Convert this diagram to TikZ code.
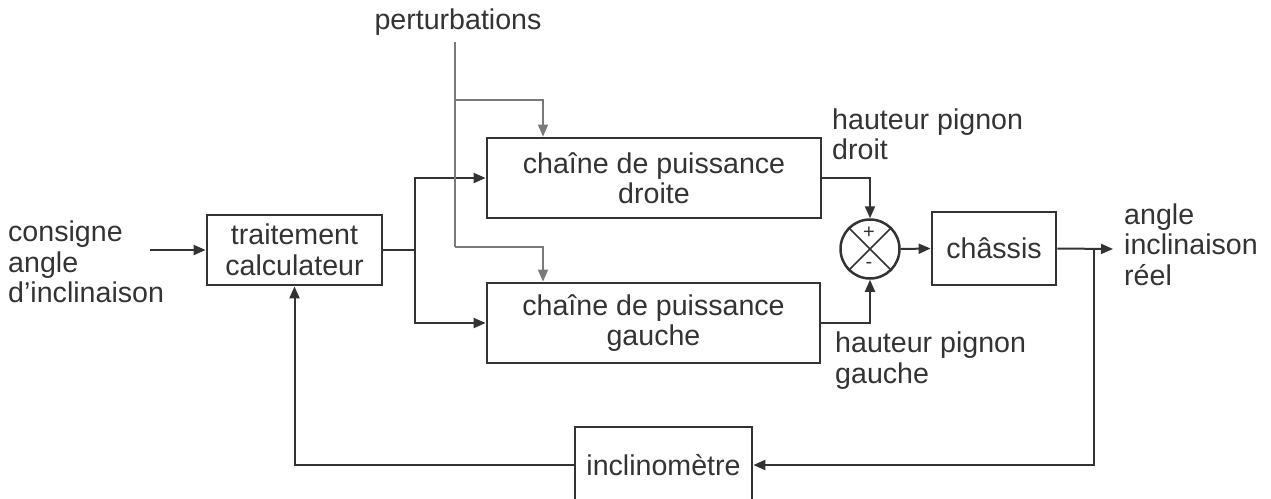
\documentclass[tikz,border=0pt]{standalone}
\usepackage{fontspec}
\setmainfont{Liberation Sans}
\usetikzlibrary{arrows.meta}
\definecolor{ink}{HTML}{333333}
\definecolor{pertc}{HTML}{7a7a7a}
\begin{document}
\begin{tikzpicture}[x=1pt,y=-1pt,
  every node/.style={font=\fontsize{28.6}{30.5}\selectfont, text=ink, inner sep=0pt},
  blockbox/.style={draw=ink, line width=2.8pt, align=center},
  conn/.style={draw=ink, line width=2pt, -{Triangle[length=12pt,width=10pt]}},
  plainconn/.style={draw=ink, line width=2pt},
  pline/.style={draw=pertc, line width=1.5pt},
  parrow/.style={draw=pertc, line width=1.5pt, -{Triangle[length=12pt,width=10pt]}},
  lbl/.style={align=left, anchor=west}]
\useasboundingbox (0,0) rectangle (1271,498);

% blocks
\node[blockbox, minimum width=175pt, minimum height=70pt] (trait) at (294.5,250) {traitement\\calculateur};
\node[blockbox, minimum width=334pt, minimum height=80pt] (top) at (654,178) {chaîne de puissance\\droite};
\node[blockbox, minimum width=333pt, minimum height=80pt] (bot) at (653.5,323) {chaîne de puissance\\gauche};
\node[blockbox, minimum width=124pt, minimum height=73pt] (chas) at (994,248.5) {châssis};
\node[blockbox, minimum width=177pt, minimum height=76pt] (incl) at (663.5,465) {inclinomètre};
\node[draw=ink, line width=2.5pt, circle, minimum size=59pt] (sum) at (870,249) {};
\draw[ink, line width=1.5pt] (sum.north east) -- (sum.south west);
\draw[ink, line width=1.5pt] (sum.north west) -- (sum.south east);
\node[font=\fontsize{20}{22}\selectfont] (plus) at (869,233) {+};
\node[font=\fontsize{20}{22}\selectfont] (minus) at (869,265) {-};

% labels
\node[lbl] (cons) at (8,262) {consigne\\angle\\d’inclinaison};
\node[anchor=base] (pert) at (458,29.5) {perturbations};
\node[lbl] (hpd) at (832,134.5) {hauteur pignon\\droit};
\node[lbl] (hpg) at (835,360.5) {hauteur pignon\\gauche};
\node[lbl] (real) at (1124,244.7) {angle\\inclinaison\\réel};

% coordinates
\coordinate (cin) at (150,250);
\coordinate (split) at (415,250);
\coordinate (p0) at (455,42);
\coordinate (p1) at (455,100);
\coordinate (p2) at (455,247);
\coordinate (tx) at (543,0);
\coordinate (fb) at (1094,249);
\coordinate (out) at (1113,249);

% connectors
\draw[conn] (cin) -- (trait.west);
\draw[plainconn] (trait.east) -- (split);
\draw[conn] (split) |- (top.west);
\draw[conn] (split) |- (bot.west);
\draw[pline] (p0) -- (p2);
\draw[parrow] (p1) -| (tx |- top.north);
\draw[parrow] (p2) -| (tx |- bot.north);
\draw[conn] (top.east) -| (sum.north);
\draw[conn] (bot.east) -| (sum.south);
\draw[conn] (sum.east) -- (chas.west);
\draw[conn] (chas.east) -- (out);
\draw[conn] (fb) |- (incl.east);
\draw[conn] (incl.west) -| (trait.south);
\end{tikzpicture}
\end{document}
